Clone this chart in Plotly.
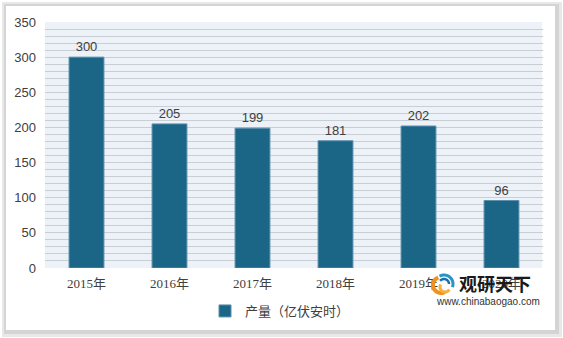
import math
import plotly.graph_objects as go

categories = ["2015年", "2016年", "2017年", "2018年", "2019年", "2020年"]
values = [300, 205, 199, 181, 202, 96]
series_name = "产量（亿伏安时）"

W, H = 563, 338
L, R, T, B = 45, 20, 22, 70
pw, ph = W - L - R, H - T - B

def px(x):
    return (x - L) / pw

def py(y):
    return (H - B - y) / ph

def arc_path(cx, cy, r, a0, a1, n=24):
    pts = []
    for i in range(n + 1):
        a = math.radians(a0 + (a1 - a0) * i / n)
        pts.append((px(cx + r * math.cos(a)), py(cy - r * math.sin(a))))
    return "M " + " L ".join(f"{x:.5f},{y:.5f}" for x, y in pts)

fig = go.Figure()
fig.add_trace(go.Bar(
    x=categories, y=values, name=series_name,
    marker=dict(color="#1B6587", line=dict(color="#5C8FAD", width=1)),
    text=[str(v) for v in values], textposition="outside",
    textfont=dict(family="Liberation Sans, Arial", size=13, color="#404040"),
    cliponaxis=False,
))

shapes = [
    dict(type="rect", xref="paper", yref="paper", layer="below",
         x0=px(0), x1=px(W), y0=py(H), y1=py(0),
         fillcolor="#FFFFFF", line=dict(width=0)),
    dict(type="rect", xref="paper", yref="paper", layer="below",
         x0=px(2), x1=px(562), y0=py(337), y1=py(2),
         fillcolor="#E8E8E8", line=dict(width=0)),
    dict(type="rect", xref="paper", yref="paper", layer="below",
         x0=px(4), x1=px(559), y0=py(334), y1=py(4),
         fillcolor="#D4D4D4", line=dict(width=0)),
    dict(type="rect", xref="paper", yref="paper", layer="below",
         x0=px(6), x1=px(555), y0=py(330), y1=py(6),
         fillcolor="#FFFFFF", line=dict(width=0)),
    dict(type="rect", xref="paper", yref="paper", layer="below",
         x0=0, x1=px(542), y0=0, y1=1,
         fillcolor="#ECF2F7", line=dict(width=0)),
    # watermark logo (approximate)
    dict(type="path", xref="paper", yref="paper", layer="above",
         path=arc_path(441, 285, 8, 110, 300), line=dict(color="#F0901E", width=4)),
    dict(type="path", xref="paper", yref="paper", layer="above",
         path=arc_path(445, 287, 5, 150, 330), line=dict(color="#F7B03A", width=3)),
    dict(type="path", xref="paper", yref="paper", layer="above",
         path=arc_path(444, 284, 9, -20, 120), line=dict(color="#2A93C8", width=3)),
    dict(type="path", xref="paper", yref="paper", layer="above",
         path=arc_path(444, 284, 5, 0, 140), line=dict(color="#1C6FA8", width=2.5)),
]

fig.update_layout(
    width=W, height=H,
    margin=dict(l=L, r=R, t=T, b=B),
    paper_bgcolor="#FFFFFF",
    plot_bgcolor="rgba(0,0,0,0)",
    bargap=0.58,
    shapes=shapes,
    showlegend=True,
    legend=dict(orientation="h", x=px(205), xanchor="left", y=py(311), yanchor="middle",
                font=dict(family="Noto Sans CJK SC", size=13, color="#404040"),
                bgcolor="rgba(0,0,0,0)"),
    xaxis=dict(showgrid=False, showline=False, ticks="", ticklabelstandoff=6,
               tickfont=dict(family="Liberation Serif, Noto Sans CJK SC", size=13, color="#404040")),
    yaxis=dict(range=[0, 350], dtick=50, showgrid=True, gridcolor="#C9CED3", gridwidth=1,
               zeroline=False, showline=False, ticks="", ticklabelstandoff=8,
               tickfont=dict(family="Liberation Sans, Arial", size=13, color="#404040"),
               minor=dict(dtick=10, showgrid=True, gridcolor="#C9CED3", gridwidth=1)),
    annotations=[
        dict(xref="paper", yref="paper", x=px(495), y=py(283), xanchor="center", yanchor="middle",
             text="<b>观研天下</b>", showarrow=False,
             font=dict(family="Noto Sans CJK SC", size=18, color="#1A1A1A")),
        dict(xref="paper", yref="paper", x=px(488), y=py(301), xanchor="center", yanchor="middle",
             text="www.chinabaogao.com", showarrow=False,
             font=dict(family="Liberation Sans, Arial", size=10, color="#333333")),
    ],
)

fig.write_html("out.html", config={"displayModeBar": False},
               post_script="document.body.style.margin='0';document.body.style.overflow='hidden';")
